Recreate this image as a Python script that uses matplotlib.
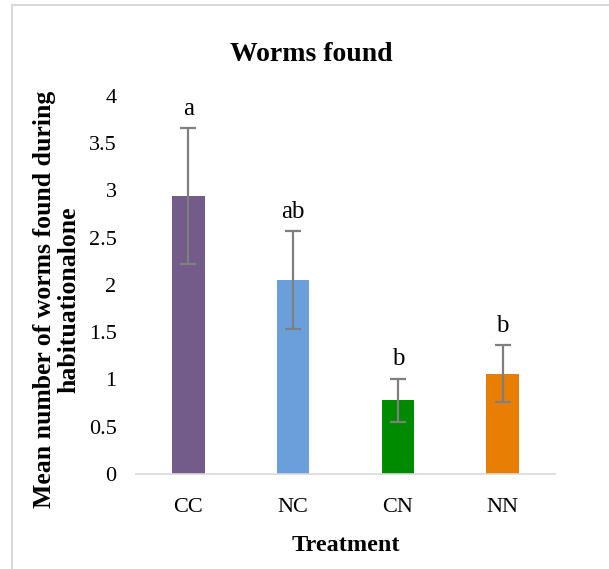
import matplotlib
matplotlib.use("Agg")
import matplotlib.pyplot as plt
from matplotlib.lines import Line2D

# data
treatments = ["CC", "NC", "CN", "NN"]
means = [2.94, 2.05, 0.78, 1.06]
errors = [0.72, 0.52, 0.23, 0.30]
letters = ["a", "ab", "b", "b"]
colors = ["#735b8a", "#6a9fdc", "#008a00", "#e97e04"]
yticks = [0, 0.5, 1, 1.5, 2, 2.5, 3, 3.5, 4]

plt.rcParams['font.family'] = ['Liberation Serif', 'DejaVu Serif']

fig = plt.figure(figsize=(6.09, 5.69), dpi=100)
ax = fig.add_axes([0.2233, 0.167, 0.688, 0.6643])

x = range(len(treatments))
ax.bar(x, means, width=0.31, color=colors, zorder=2)
ax.errorbar(x, means, yerr=errors, fmt='none', ecolor='#7f7f7f',
            elinewidth=1.6, capsize=6, capthick=1.6, zorder=3)
for i in x:
    ax.annotate(letters[i], (i, means[i] + errors[i]), xytext=(0, 6),
                textcoords='offset points', ha='center', va='bottom',
                fontsize=18)

ax.set_xlim(-0.5, 3.5)
ax.set_ylim(0, 4)
ax.set_yticks(yticks)
ax.set_yticklabels([f"{t:g}" for t in yticks])
ax.set_xticks(list(x))
ax.set_xticklabels(treatments)
ax.tick_params(axis='both', length=0, labelsize=16)
ax.tick_params(axis='y', pad=14)
ax.tick_params(axis='x', pad=17)
for s in ['top', 'right', 'left']:
    ax.spines[s].set_visible(False)
ax.spines['bottom'].set_color('#d9d9d9')
ax.spines['bottom'].set_linewidth(1.2)

ax.set_xlabel("Treatment", fontsize=17.5, fontweight='bold', labelpad=13)
fig.text(0.093, 0.473, "Mean number of worms found during\nhabituationalone",
         rotation=90, ha='center', va='center', fontsize=18.5,
         fontweight='bold', linespacing=1.08)
fig.text(0.512, 0.905, "Worms found", ha='center', va='center',
         fontsize=20, fontweight='bold')

# light frame around chart area
fig.add_artist(Line2D([0.02, 0.02], [0.0, 0.991], color='#d9d9d9', lw=1.5,
                      transform=fig.transFigure))
fig.add_artist(Line2D([0.02, 1.0], [0.991, 0.991], color='#d9d9d9', lw=1.5,
                      transform=fig.transFigure))

fig.savefig("out.png", dpi=100)
